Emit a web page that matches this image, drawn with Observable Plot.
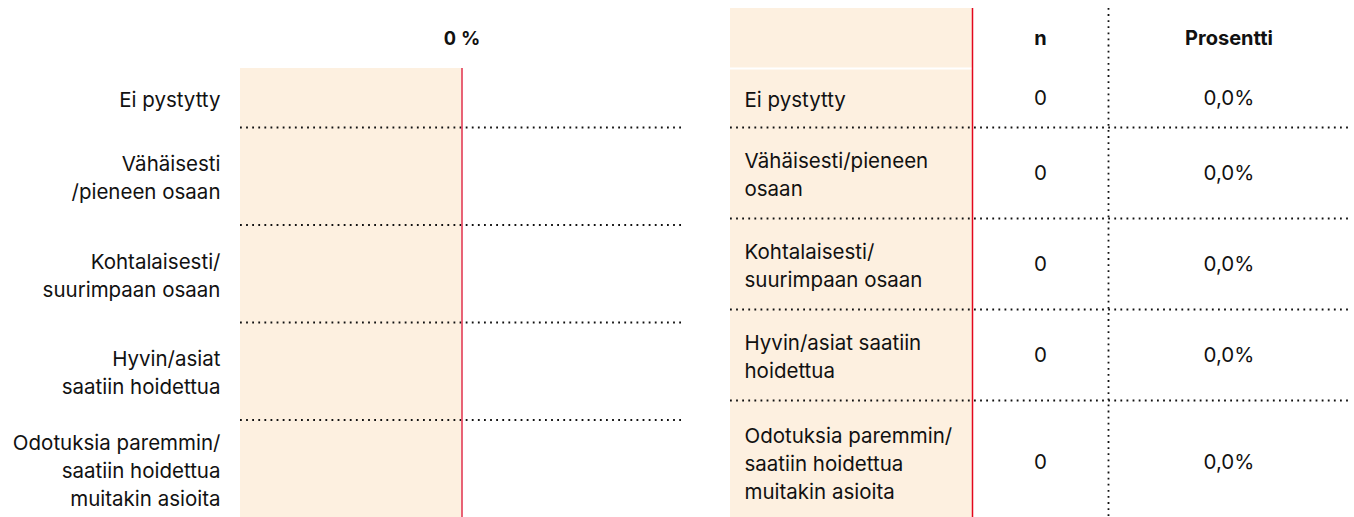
<!DOCTYPE html>
<html><head><meta charset="utf-8">
<script src="https://cdn.jsdelivr.net/npm/d3@7"></script>
<script src="https://cdn.jsdelivr.net/npm/@observablehq/plot@0.6"></script>
<style>
body{margin:0;background:#fff;}
#wrap{display:flex;width:1354px;height:517px;overflow:hidden;}
#wrap svg{display:block;flex:none;}
</style></head><body><div id="wrap"></div>
<script>
// ---- data ----
const chartLabels = ["Ei pystytty", "Vähäisesti\n/pieneen osaan", "Kohtalaisesti/\nsuurimpaan osaan", "Hyvin/asiat\nsaatiin hoidettua", "Odotuksia paremmin/\nsaatiin hoidettua\nmuitakin asioita"];
const tableLabels = ["Ei pystytty", "Vähäisesti/pieneen\nosaan", "Kohtalaisesti/\nsuurimpaan osaan", "Hyvin/asiat saatiin\nhoidettua", "Odotuksia paremmin/\nsaatiin hoidettua\nmuitakin asioita"];
const counts = [0, 0, 0, 0, 0];
const percents = [0, 0, 0, 0, 0];
const tableHeaders = ["n", "Prosentti"];
const axisTicks = [0];

// ---- style ----
const FONT = "Inter, 'Noto Sans', sans-serif";
const FS = 20.5;
const PEACH = "#fdf0e0";
const RED_L = "#e33b55";
const RED_R = "#e3061c";
const INK = "#111";
const fmtPct = v => d3.format(".1f")(v).replace(".", ",") + "%";
const nLines = s => s.split("\n").length;

// ---------- left chart ----------
const L = {width: 700, height: 517, top: 68, left: 240, right: 17, singleRow: 59};
const leftSpan = L.height - L.top;
// single-line rows are short; multi-line rows share the remaining frame height
const multi = chartLabels.filter(s => nLines(s) > 1).length;
const multiH = (leftSpan - L.singleRow * (chartLabels.length - multi)) / multi;
let yy = 0;
const leftRows = chartLabels.map((label, i) => {
  const h = nLines(label) > 1 ? multiH : L.singleRow;
  const r = {label, pct: percents[i], y1: yy, y2: yy + h, ym: yy + h / 2};
  yy += h;
  return r;
});
const left = Plot.plot({
  width: L.width, height: L.height,
  marginTop: L.top, marginBottom: 0, marginLeft: L.left, marginRight: L.right,
  style: {fontFamily: FONT, fontSize: FS + "px", color: INK, background: "transparent", overflow: "visible"},
  x: {domain: [-100, 100], axis: null},
  y: {domain: [0, leftSpan], reverse: true, axis: null},
  marks: [
    Plot.rect([0], {x1: -100, x2: 0, y1: 0, y2: leftSpan, fill: PEACH}),
    Plot.ruleY(leftRows.slice(1), {y: "y1", stroke: INK, strokeWidth: 1.8, strokeDasharray: "1.8 4.3"}),
    Plot.rectX(leftRows, {x1: 0, x2: "pct", y1: d => d.y1 + 10, y2: d => d.y2 - 10, fill: RED_L}),
    Plot.ruleX(axisTicks, {stroke: RED_L, strokeWidth: 1.6}),
    Plot.axisX(axisTicks, {anchor: "top", tickSize: 0, tickPadding: 24, tickFormat: d => `${d} %`, fontWeight: "bold", fontSize: 19, label: null}),
    Plot.text(leftRows, {x: -100, y: "ym", text: "label", textAnchor: "end", dx: -20, fontSize: FS, lineHeight: 1.37, fill: INK})
  ]
});

// ---------- right table ----------
const R = {width: 654, height: 517, top: 8, left: 30, right: 5};
const colW = {label: 242, n: 136, pct: 241};
const xN0 = colW.label, xP0 = colW.label + colW.n, xEnd = xP0 + colW.pct;
const headerH = 60;
let ty = headerH;
const tableRows = tableLabels.map((label, i) => {
  const h = 27 + 32 * nLines(label);
  const r = {label, n: String(counts[i]), pct: fmtPct(percents[i]), y1: ty, y2: ty + h, ym: ty + h / 2};
  ty += h;
  return r;
});
const rightSpan = R.height - R.top;
const headerCells = [{x: (xN0 + xP0) / 2, t: tableHeaders[0]}, {x: (xP0 + xEnd) / 2, t: tableHeaders[1]}];
const right = Plot.plot({
  width: R.width, height: R.height,
  marginTop: R.top, marginBottom: 0, marginLeft: R.left, marginRight: R.right,
  style: {fontFamily: FONT, fontSize: FS + "px", color: INK, background: "transparent"},
  x: {domain: [0, xEnd], axis: null},
  y: {domain: [0, rightSpan], reverse: true, axis: null},
  marks: [
    Plot.rect([0], {x1: 0, x2: colW.label, y1: 0, y2: rightSpan, fill: PEACH}),
    Plot.ruleY([headerH], {stroke: "#fff", strokeWidth: 2}),
    Plot.ruleY(tableRows.slice(1), {y: "y1", stroke: INK, strokeWidth: 1.8, strokeDasharray: "1.8 4.3"}),
    Plot.ruleX([xP0], {y1: 0, y2: rightSpan, stroke: INK, strokeWidth: 1.8, strokeDasharray: "1.8 4.3"}),
    Plot.ruleX([xN0], {y1: 0, y2: rightSpan, stroke: RED_R, strokeWidth: 1.5}),
    Plot.text(headerCells, {x: "x", y: headerH / 2, text: "t", fontWeight: "bold", fontSize: 20, textAnchor: "middle", fill: INK}),
    Plot.text(tableRows, {x: 0, y: "ym", text: "label", textAnchor: "start", dx: 14, fontSize: FS, lineHeight: 1.37, fill: INK}),
    Plot.text(tableRows, {x: (xN0 + xP0) / 2, y: "ym", text: "n", fontSize: FS, fill: INK}),
    Plot.text(tableRows, {x: (xP0 + xEnd) / 2, y: "ym", text: "pct", fontSize: FS, fill: INK})
  ]
});

const wrap = document.getElementById("wrap");
wrap.appendChild(left);
wrap.appendChild(right);
</script>
</body></html>
